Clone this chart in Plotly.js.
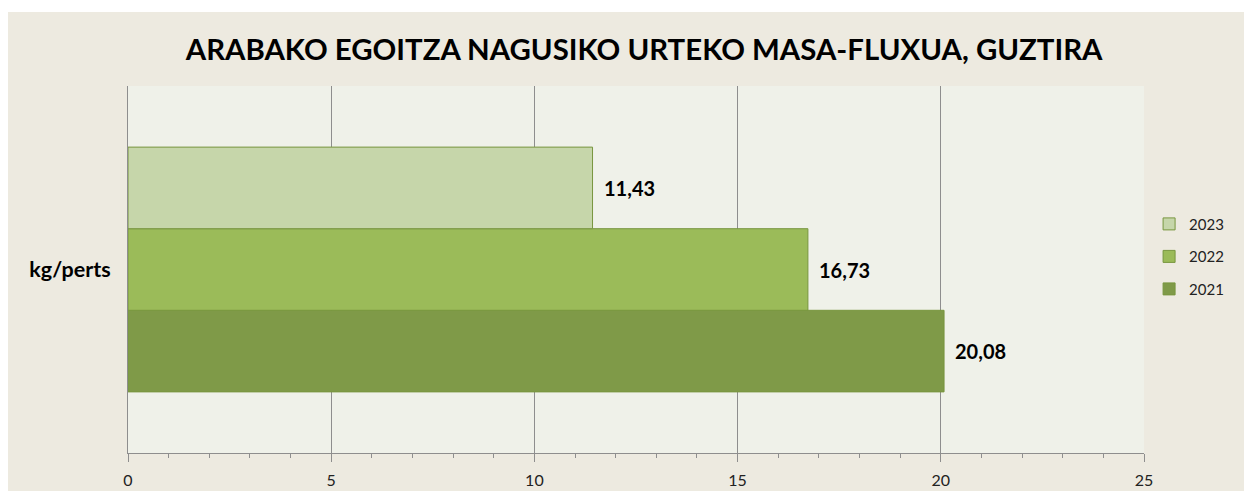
<!DOCTYPE html>
<html>
<head>
<meta charset="utf-8">
<script src="https://cdn.plot.ly/plotly-3.0.1.min.js"></script>
<style>
  html, body { margin: 0; padding: 0; background: #ffffff; }
  #chart { position: absolute; left: 8px; top: 12px; width: 1236px; height: 479px; }
</style>
</head>
<body>
<div id="chart"></div>
<script>
// Data
const category = ['kg/perts'];
const years = ['2021', '2022', '2023'];
const values = [20.08, 16.73, 11.43];
const colors = ['#7F9A48', '#9BBB59', '#C6D6AA'];
const titleText = 'ARABAKO EGOITZA NAGUSIKO URTEKO MASA-FLUXUA, GUZTIRA';

const bargap = 0.333;
const fontFam = 'Lato, "Open Sans", sans-serif';

const traces = years.map((yr, i) => ({
  type: 'bar',
  orientation: 'h',
  name: yr,
  y: category,
  x: [values[i]],
  legendgroup: yr,
  legendrank: years.length - i,
  marker: { color: colors[i], line: { color: '#78963F', width: 1 } },
  hoverinfo: 'x+name'
}));

const n = years.length;
const bw = (1 - bargap) / n;
const annotations = values.map((v, i) => ({
  x: v,
  y: (i - (n - 1) / 2) * bw,
  xref: 'x', yref: 'y',
  text: '<b>' + v.toFixed(2).replace('.', ',') + '</b>',
  showarrow: false,
  xanchor: 'left',
  yanchor: 'middle',
  xshift: 9,
  font: { family: fontFam, size: 20, color: '#000000' }
}));

const layout = {
  width: 1236,
  height: 479,
  paper_bgcolor: '#EDEAE0',
  plot_bgcolor: '#EFF1E9',
  margin: { l: 120, r: 100, t: 74, b: 38 },
  title: {
    text: '<b>' + titleText + '</b>',
    font: { family: fontFam, size: 29.4, color: '#000000' },
    x: 0.508, xanchor: 'center', xref: 'paper',
    y: 1 - 38 / 479, yanchor: 'middle', yref: 'container'
  },
  barmode: 'group',
  bargap: bargap,
  bargroupgap: 0,
  showlegend: true,
  legend: {
    x: 1.005, xanchor: 'left',
    y: 0.535, yanchor: 'middle',
    traceorder: 'grouped',
    tracegroupgap: 10,
    font: { family: fontFam, size: 15, color: '#222222' },
    bgcolor: 'rgba(0,0,0,0)'
  },
  xaxis: {
    range: [0, 25],
    dtick: 5,
    tick0: 0,
    showgrid: true,
    gridcolor: '#8E8E8E',
    gridwidth: 1,
    zeroline: false,
    showline: true,
    linecolor: '#8E8E8E',
    linewidth: 1,
    ticks: 'outside',
    ticklen: 8,
    tickcolor: '#8E8E8E',
    ticklabelstandoff: 5,
    minor: { dtick: 1, ticks: 'outside', ticklen: 4, tickcolor: '#8E8E8E', showgrid: false },
    tickfont: { family: fontFam, size: 16, color: '#222222' },
    fixedrange: true
  },
  yaxis: {
    type: 'category',
    showline: true,
    linecolor: '#8E8E8E',
    linewidth: 1,
    showgrid: false,
    ticks: '',
    ticklabelstandoff: 12,
    tickfont: { family: fontFam, size: 21.5, color: '#000000', weight: 'bold' },
    fixedrange: true
  },
  annotations: annotations
};

Plotly.newPlot('chart', traces, layout, { displayModeBar: false, staticPlot: true });
</script>
</body>
</html>
